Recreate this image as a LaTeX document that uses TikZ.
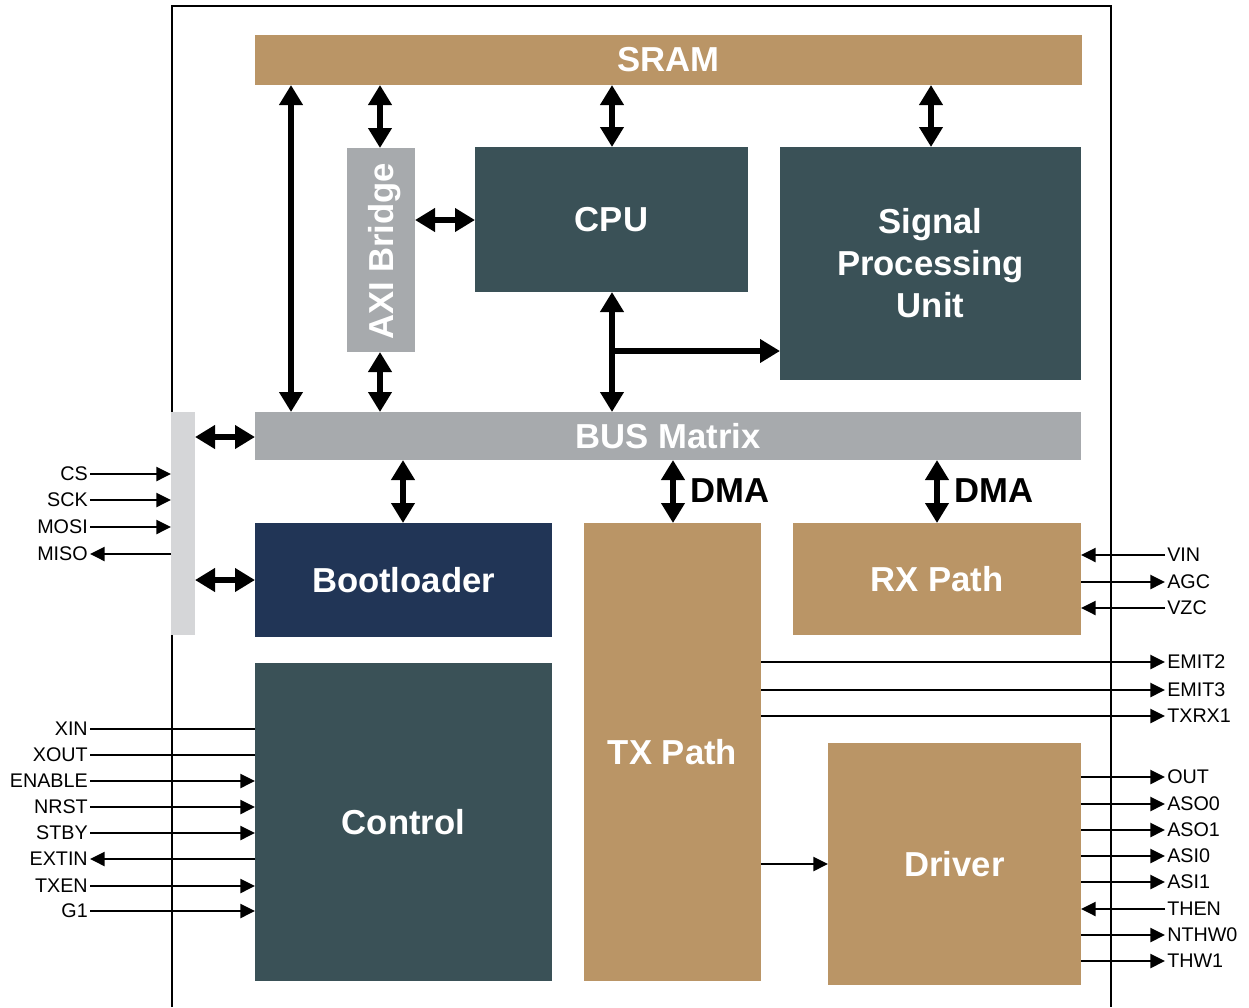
\documentclass[tikz,border=0pt]{standalone}
\usepackage{fontspec}
\setmainfont{Liberation Sans}
\usetikzlibrary{arrows.meta,fit}
\definecolor{cTan}{HTML}{BA9566}
\definecolor{cTeal}{HTML}{3A5157}
\definecolor{cNavy}{HTML}{213556}
\definecolor{cGray}{HTML}{A7AAAD}
\definecolor{cLight}{HTML}{D5D6D8}
\begin{document}
\begin{tikzpicture}[x=0.75pt,y=-0.75pt,
  box/.style={inner sep=0pt, outer sep=0pt},
  blk/.style={inner sep=0pt, outer sep=0pt, text=white, align=center,
    font=\bfseries\fontsize{26}{31.5}\selectfont},
  big/.style={line width=4.5pt, {Triangle[width=17pt,length=15pt]}-{Triangle[width=17pt,length=15pt]}},
  bigone/.style={line width=4.5pt, -{Triangle[width=17pt,length=15pt]}},
  sig/.style={line width=1.8pt, -{Triangle[width=10.5pt,length=11pt]}},
  plain/.style={line width=1.8pt},
  lab/.style={inner sep=1.5pt, font=\fontsize{14.8}{17}\selectfont},
  dma/.style={inner sep=0pt, font=\bfseries\fontsize{26}{30}\selectfont}]
\useasboundingbox (0,0) rectangle (1249,1007);
% frame
\coordinate (f1) at (172,1007);
\coordinate (f2) at (172,6);
\coordinate (f3) at (1111,6);
\coordinate (f4) at (1111,1007);
\draw[line width=1.2pt] (f1) -- (f2) -- (f3) -- (f4);
% blocks
\node[box, fill=cTan, fit={(255,35) (1082,85)}] (sram) {};
\node[box, fill=cTeal, fit={(475,147) (748,292)}] (cpu) {};
\node[box, fill=cTeal, fit={(780,147) (1081,380)}] (spu) {};
\node[box, fill=cGray, fit={(347,148) (415,352)}] (axi) {};
\node[box, fill=cGray, fit={(255,412) (1081,460)}] (bus) {};
\node[box, fill=cLight, fit={(171,412) (195,635)}] (lbar) {};
\node[box, fill=cNavy, fit={(255,523) (552,637)}] (boot) {};
\node[box, fill=cTeal, fit={(255,663) (552,981)}] (ctrl) {};
\node[box, fill=cTan, fit={(584,523) (761,981)}] (tx) {};
\node[box, fill=cTan, fit={(793,523) (1081,635)}] (rx) {};
\node[box, fill=cTan, fit={(828,743) (1081,985)}] (drv) {};
% block texts
\node[blk] (sramT) at (sram.center) {SRAM};
\node[blk] (cpuT) at (cpu.center) {CPU};
\node[blk] (spuT) at (spu.center) {Signal\\Processing\\Unit};
\node[blk, rotate=90] (axiT) at ([xshift=2.5pt,yshift=-1pt]axi.center) {AXI Bridge};
\node[blk] (busT) at (bus.center) {BUS Matrix};
\node[blk] (bootT) at (boot.center) {Bootloader};
\node[blk] (ctrlT) at (ctrl.center) {Control};
\node[blk] (txT) at (tx.center) {TX Path};
\node[blk] (rxT) at (rx.center) {RX Path};
\node[blk] (drvT) at (drv.center) {Driver};
% x positions
\coordinate (x291) at (291,0);
\coordinate (x380) at (380,0);
\coordinate (x612) at (612,0);
\coordinate (x931) at (931,0);
\coordinate (x403) at (403,0);
\coordinate (x673) at (673,0);
\coordinate (x937) at (937,0);
\coordinate (y220) at (0,220);
\coordinate (y437) at (0,437);
\coordinate (y580) at (0,580);
\coordinate (y864) at (0,864);
\coordinate (br) at (612,351);
% big arrows
\draw[big] (x291 |- sram.south) -- (x291 |- bus.north);
\draw[big] (x380 |- sram.south) -- (x380 |- axi.north);
\draw[big] (x380 |- axi.south) -- (x380 |- bus.north);
\draw[big] (x612 |- sram.south) -- (x612 |- cpu.north);
\draw[big] (x931 |- sram.south) -- (x931 |- spu.north);
\draw[big] (axi.east |- y220) -- (cpu.west |- y220);
\draw[big] (x612 |- cpu.south) -- (x612 |- bus.north);
\draw[bigone] (br) -- (spu.west |- br);
\draw[big] (lbar.east |- y437) -- (bus.west |- y437);
\draw[big] (lbar.east |- y580) -- (boot.west |- y580);
\draw[big] (x403 |- bus.south) -- (x403 |- boot.north);
\draw[big] (x673 |- bus.south) -- (x673 |- tx.north);
\draw[big] (x937 |- bus.south) -- (x937 |- rx.north);
\node[dma, anchor=west] (dma1) at (690,491) {DMA};
\node[dma, anchor=west] (dma2) at (954,491) {DMA};
\draw[sig] (tx.east |- y864) -- (drv.west |- y864);
% left SPI signals
\node[lab, anchor=east] (cs) at (90,474) {CS};
\node[lab, anchor=east] (sck) at (90,500) {SCK};
\node[lab, anchor=east] (mosi) at (90,527) {MOSI};
\node[lab, anchor=east] (miso) at (90,554) {MISO};
\draw[sig] (cs.east) -- (cs.east -| lbar.west);
\draw[sig] (sck.east) -- (sck.east -| lbar.west);
\draw[sig] (mosi.east) -- (mosi.east -| lbar.west);
\draw[sig] (miso.east -| lbar.west) -- (miso.east);
% control signals
\node[lab, anchor=east] (xin) at (90,729) {XIN};
\node[lab, anchor=east] (xout) at (90,755) {XOUT};
\node[lab, anchor=east] (enable) at (90,781) {ENABLE};
\node[lab, anchor=east] (nrst) at (90,807) {NRST};
\node[lab, anchor=east] (stby) at (90,833) {STBY};
\node[lab, anchor=east] (extin) at (90,859) {EXTIN};
\node[lab, anchor=east] (txen) at (90,886) {TXEN};
\node[lab, anchor=east] (g1) at (90,911) {G1};
\draw[plain] (xin.east) -- (xin.east -| ctrl.west);
\draw[plain] (xout.east) -- (xout.east -| ctrl.west);
\draw[sig] (enable.east) -- (enable.east -| ctrl.west);
\draw[sig] (nrst.east) -- (nrst.east -| ctrl.west);
\draw[sig] (stby.east) -- (stby.east -| ctrl.west);
\draw[sig] (extin.east -| ctrl.west) -- (extin.east);
\draw[sig] (txen.east) -- (txen.east -| ctrl.west);
\draw[sig] (g1.east) -- (g1.east -| ctrl.west);
% RX signals
\node[lab, anchor=west] (vin) at (1165,555) {VIN};
\node[lab, anchor=west] (agc) at (1165,582) {AGC};
\node[lab, anchor=west] (vzc) at (1165,608) {VZC};
\draw[sig] (vin.west) -- (vin.west -| rx.east);
\draw[sig] (agc.west -| rx.east) -- (agc.west);
\draw[sig] (vzc.west) -- (vzc.west -| rx.east);
% TX signals
\node[lab, anchor=west] (emit2) at (1165,662) {EMIT2};
\node[lab, anchor=west] (emit3) at (1165,690) {EMIT3};
\node[lab, anchor=west] (txrx1) at (1165,716) {TXRX1};
\draw[sig] (emit2.west -| tx.east) -- (emit2.west);
\draw[sig] (emit3.west -| tx.east) -- (emit3.west);
\draw[sig] (txrx1.west -| tx.east) -- (txrx1.west);
% Driver signals
\node[lab, anchor=west] (out) at (1165,777) {OUT};
\node[lab, anchor=west] (aso0) at (1165,804) {ASO0};
\node[lab, anchor=west] (aso1) at (1165,830) {ASO1};
\node[lab, anchor=west] (asi0) at (1165,856) {ASI0};
\node[lab, anchor=west] (asi1) at (1165,882) {ASI1};
\node[lab, anchor=west] (then) at (1165,909) {THEN};
\node[lab, anchor=west] (nthw0) at (1165,935) {NTHW0};
\node[lab, anchor=west] (thw1) at (1165,961) {THW1};
\draw[sig] (out.west -| drv.east) -- (out.west);
\draw[sig] (aso0.west -| drv.east) -- (aso0.west);
\draw[sig] (aso1.west -| drv.east) -- (aso1.west);
\draw[sig] (asi0.west -| drv.east) -- (asi0.west);
\draw[sig] (asi1.west -| drv.east) -- (asi1.west);
\draw[sig] (then.west) -- (then.west -| drv.east);
\draw[sig] (nthw0.west -| drv.east) -- (nthw0.west);
\draw[sig] (thw1.west -| drv.east) -- (thw1.west);
\end{tikzpicture}
\end{document}
